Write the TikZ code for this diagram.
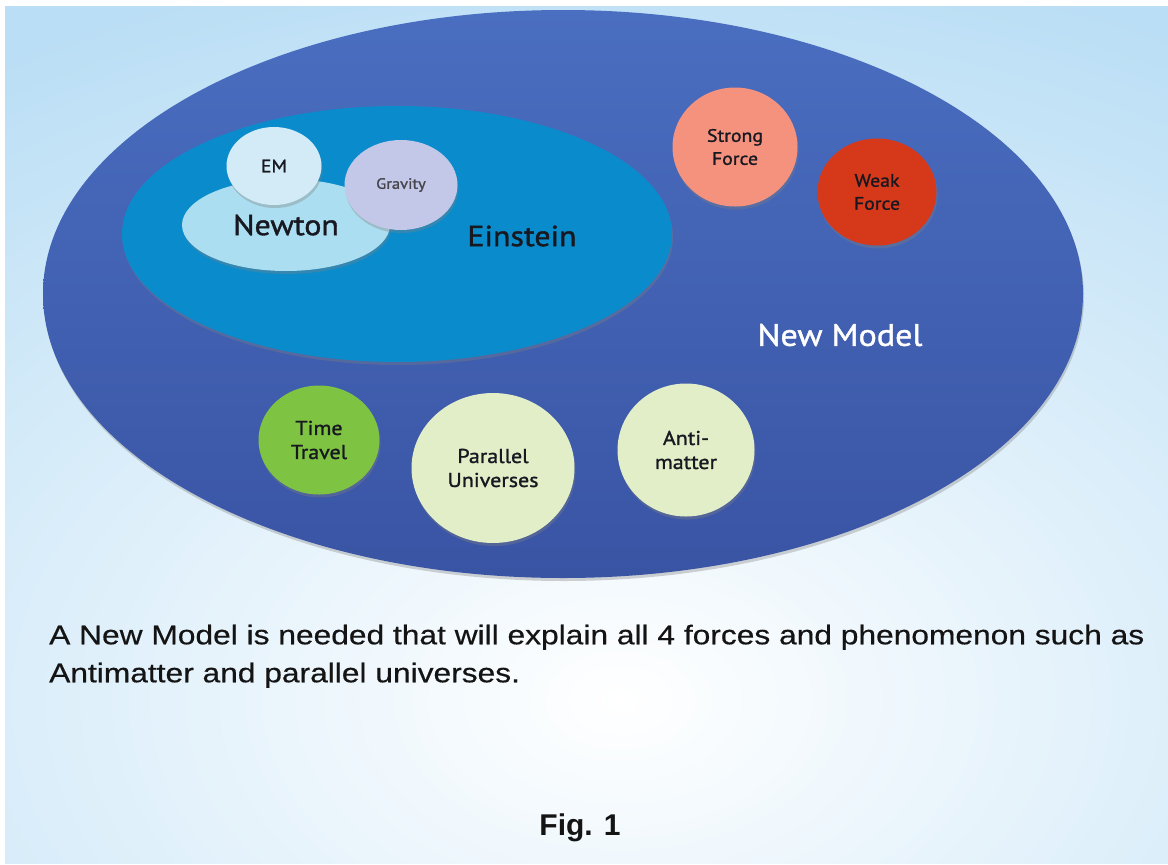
\documentclass[tikz,border=0pt]{standalone}
\usepackage{fontspec}
\setmainfont{Liberation Sans}
\newfontfamily\bubblefont[FakeStretch=1.1,FakeBold=1.3]{PT Sans}
\newfontfamily\notefont[FakeStretch=1.175,FakeBold=0.5]{Liberation Sans}
\usetikzlibrary{shapes.geometric,shadows}

\definecolor{skyback}{RGB}{186,222,245}
\definecolor{modeltop}{RGB}{74,110,192}
\definecolor{modelbot}{RGB}{58,84,164}
\definecolor{einsteinfill}{RGB}{10,140,204}
\definecolor{newtonfill}{RGB}{170,222,240}
\definecolor{emfill}{RGB}{210,235,246}
\definecolor{gravityfill}{RGB}{195,200,232}
\definecolor{strongfill}{RGB}{245,146,126}
\definecolor{weakfill}{RGB}{214,56,26}
\definecolor{timefill}{RGB}{126,195,66}
\definecolor{palefill}{RGB}{225,238,200}
\definecolor{bubbletext}{RGB}{24,24,32}

\tikzset{
  blob/.style={ellipse, inner sep=0pt,
    drop shadow={opacity=0.35, shadow xshift=1pt, shadow yshift=-3pt}},
  bubble/.style={blob, align=center, text=bubbletext,
    font=\bubblefont\fontsize{18}{23}\selectfont},
  bigword/.style={font=\bubblefont\fontsize{29}{34}\selectfont}
}

\begin{document}
\begin{tikzpicture}[x=1pt, y=-1pt]
  \useasboundingbox (0,0) rectangle (1168,865);
  % Background
  \fill[white] (0,0) rectangle (1168,865);
  \begin{scope}
    \clip (5,6) rectangle (1168,863);
    \fill[skyback] (5,6) rectangle (1168,863);
    \shade[inner color=white, outer color=skyback] (620,700) ellipse (1150 and 760);
  \end{scope}

  % Nested models
  \node[blob, minimum width=1040, minimum height=568, top color=modeltop, bottom color=modelbot] (newmodel) at (563,294) {};
  \node[blob, minimum width=550, minimum height=256, fill=einsteinfill] (einstein) at (397,234) {};
  \node[bubble, fill=newtonfill, minimum width=208, minimum height=92, bigword] (newton) at (286,225) {Newton};
  \node[bubble, fill=emfill, minimum width=95, minimum height=78] (em) at (274,166) {EM};
  \node[bubble, fill=gravityfill, minimum width=113, minimum height=90,
        font=\bubblefont\fontsize{15}{18}\selectfont, text=bubbletext!80] (gravity) at (401,185) {Gravity};

  % Forces
  \node[bubble, fill=strongfill, minimum width=125, minimum height=119] (strong) at (735,147) {Strong\\Force};
  \node[bubble, fill=weakfill, minimum width=119, minimum height=107] (weak) at (877,192) {Weak\\Force};

  % Phenomena
  \node[bubble, fill=timefill, minimum width=121, minimum height=109,
        font=\bubblefont\fontsize{20}{24}\selectfont] (timetravel) at (319,440) {Time\\Travel};
  \node[bubble, fill=palefill, minimum width=163, minimum height=150,
        font=\bubblefont\fontsize{20}{24}\selectfont] (parallel) at (493,468) {Parallel\\Universes};
  \node[bubble, fill=palefill, minimum width=137, minimum height=133,
        font=\bubblefont\fontsize{20}{24}\selectfont] (antimatter) at (686,450) {Anti-\\matter};

  % Labels
  \node[bigword, text=bubbletext] (einsteinlbl) at (522,236) {Einstein};
  \node[bigword, text=white, font=\bubblefont\fontsize{31}{36}\selectfont] (newmodellbl) at (840,335) {New Model};

  % Caption
  \node[anchor=north west, inner sep=0pt, align=left, text=black!92,
        font=\notefont\fontsize{27}{38}\selectfont] (note) at (49,624.5)
    {A New Model is needed that will explain all 4 forces and phenomenon such as\\
     Antimatter and parallel universes.};
  \node[anchor=base, font=\bfseries\fontsize{30}{36}\selectfont, text=black!92] (figlabel) at (580,835) {Fig. 1};
\end{tikzpicture}
\end{document}
